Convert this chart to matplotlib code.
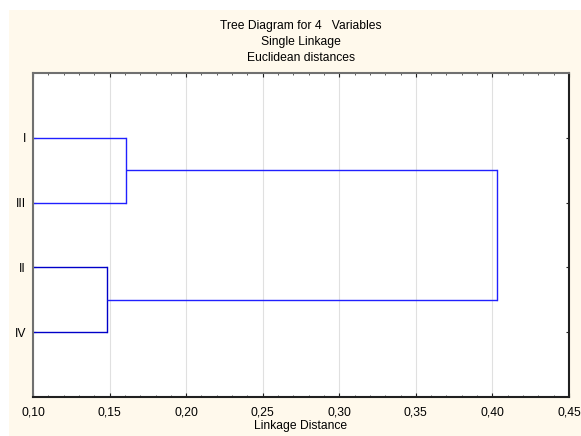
import numpy as np
import matplotlib.pyplot as plt
from matplotlib.patches import Rectangle
from matplotlib.ticker import MultipleLocator, FuncFormatter

plt.rcParams['font.family'] = ['Liberation Sans', 'DejaVu Sans']
plt.rcParams['font.size'] = 8.7

# leaves top to bottom, and the joins (left child, right child, linkage distance)
leaf_labels = ["I", "III", "II", "IV"]
leaf_start = 0.10
join_a = ["I", "II", "c1"]
join_b = ["III", "IV", "c2"]
join_dist = [0.161, 0.1485, 0.4028]
join_colors = ["#2020ff", "#0000c8", "#2020ff"]
x_ticks = [0.10, 0.15, 0.20, 0.25, 0.30, 0.35, 0.40, 0.45]

fig = plt.figure(figsize=(5.81, 4.36), dpi=100)
fig.patch.set_facecolor("white")
fig.patches.append(Rectangle((9 / 581, 0), 1, 1 - 10 / 436, transform=fig.transFigure,
                             facecolor="#fff9ec", edgecolor="none", zorder=-10))

ax = fig.add_axes([33 / 581, 1 - 397 / 436, 536 / 581, 324 / 436])
ax.set_facecolor("white")

# node positions: y from leaf order, x from linkage distance
ypos = {name: i + 1 for i, name in enumerate(leaf_labels)}
xpos = {name: leaf_start for name in leaf_labels}
for k in range(len(join_dist)):
    a, b, d = join_a[k], join_b[k], join_dist[k]
    c = join_colors[k]
    ax.plot([xpos[a], d], [ypos[a], ypos[a]], color=c, lw=1.0, solid_capstyle="butt")
    ax.plot([xpos[b], d], [ypos[b], ypos[b]], color=c, lw=1.0, solid_capstyle="butt")
    ax.plot([d, d], [ypos[a], ypos[b]], color=c, lw=1.0)
    name = "c%d" % (k + 1)
    ypos[name] = (ypos[a] + ypos[b]) / 2
    xpos[name] = d

ax.set_xlim(0.10, 0.45)
ax.set_ylim(5, 0)
ax.set_xticks(x_ticks)
ax.xaxis.set_minor_locator(MultipleLocator(0.01))
ax.xaxis.set_major_formatter(FuncFormatter(lambda v, p: ("%.2f" % v).replace(".", ",")))
ax.set_yticks(range(1, len(leaf_labels) + 1))
ax.set_yticklabels(leaf_labels)
ax.grid(axis="x", color="#e0e0e0", lw=0.8)
ax.set_axisbelow(True)

ax.tick_params(axis="x", which="major", direction="in", length=3, top=True, pad=7, colors="#202020")
ax.tick_params(axis="x", which="minor", direction="in", length=1.5, top=True, colors="#404040")
ax.tick_params(axis="y", direction="in", length=2.5, right=True, pad=5, colors="#202020")
for lab in ax.get_xticklabels() + ax.get_yticklabels():
    lab.set_color("black")

ax.spines["left"].set_color("#707070")
ax.spines["top"].set_color("#707070")
ax.spines["right"].set_color("#202020")
ax.spines["bottom"].set_color("#202020")
for s in ax.spines.values():
    s.set_linewidth(1.5)

ax.set_xlabel("Linkage Distance", labelpad=1)

fig.text(301 / 581, 1 - 26 / 436, "Tree Diagram for 4   Variables", ha="center", va="center")
fig.text(301 / 581, 1 - 42 / 436, "Single Linkage", ha="center", va="center")
fig.text(301 / 581, 1 - 58 / 436, "Euclidean distances", ha="center", va="center")

fig.savefig("out.png", dpi=100)
